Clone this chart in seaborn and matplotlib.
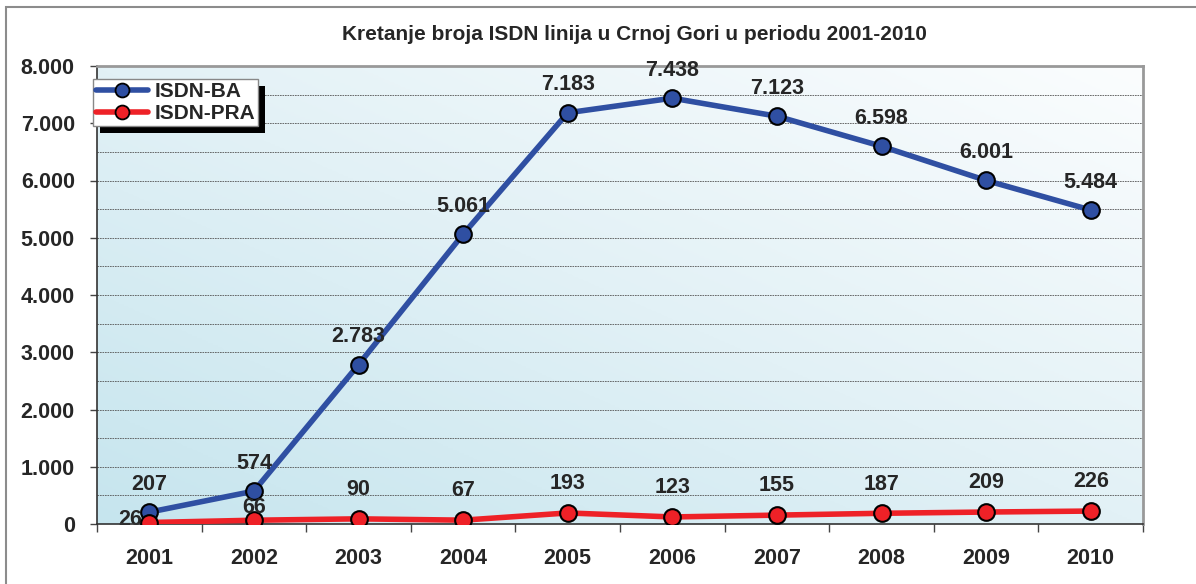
import numpy as np
import pandas as pd
import matplotlib
matplotlib.use("Agg")
import matplotlib.pyplot as plt
from matplotlib.patches import Rectangle
from matplotlib.colors import LinearSegmentedColormap
from matplotlib.ticker import MultipleLocator, FuncFormatter
from matplotlib.lines import Line2D
import seaborn as sns

# podaci
godine = ["2001", "2002", "2003", "2004", "2005", "2006", "2007", "2008", "2009", "2010"]
isdn_ba = [207, 574, 2783, 5061, 7183, 7438, 7123, 6598, 6001, 5484]
isdn_pra = [26, 66, 90, 67, 193, 123, 155, 187, 209, 226]
serije = ["ISDN-BA", "ISDN-PRA"]
boje = ["#2f4fa2", "#ee2127"]

df = pd.DataFrame({
    "godina": godine * 2,
    "vrijednost": isdn_ba + isdn_pra,
    "serija": [serije[0]] * len(godine) + [serije[1]] * len(godine),
})
df["x"] = list(range(len(godine))) * 2

sns.set_theme(style="white")
plt.rcParams["font.family"] = ["Liberation Sans", "DejaVu Sans"]
plt.rcParams["font.weight"] = "bold"

fig = plt.figure(figsize=(11.96, 5.84), dpi=100)
ax = fig.add_axes([97 / 1196, 1 - 524 / 584, 1046 / 1196, 458 / 584])

# spoljni okvir
fig.patches.append(Rectangle((6 / 1196, -0.01), 1.2, 1 - 7 / 584 + 0.01,
                             transform=fig.transFigure, fill=False,
                             edgecolor="#8c8c8c", linewidth=1.5, zorder=-5))

# gradijent pozadine
cmap = LinearSegmentedColormap.from_list("bg", ["#c6e5ee", "#e2f1f6", "#fbfdfe"])
xx, yy = np.meshgrid(np.linspace(0, 1, 200), np.linspace(0, 1, 200))
grad = (xx + (1 - yy)) / 2
ax.imshow(grad, cmap=cmap, extent=[-0.5, 9.5, 0, 8000], aspect="auto",
          origin="upper", zorder=0)

sns.lineplot(data=df, x="x", y="vrijednost", hue="serija", palette=boje,
             marker="o", markersize=12, markeredgecolor="black",
             markeredgewidth=1.5, linewidth=4, ax=ax, zorder=3, legend=False)

ax.set_xlim(-0.5, 9.5)
ax.set_ylim(0, 8000)
ax.yaxis.set_major_locator(MultipleLocator(1000))
ax.yaxis.set_minor_locator(MultipleLocator(500))
ax.yaxis.set_major_formatter(FuncFormatter(lambda v, p: f"{int(v):,}".replace(",", ".")))
ax.grid(axis="y", which="both", linestyle=(0, (2, 1)), color="#555555", linewidth=0.6, zorder=1)
ax.set_axisbelow(True)

ax.set_xticks(np.arange(-0.5, 10, 1))
ax.set_xticklabels([])
ax.set_xticks(range(len(godine)), minor=True)
ax.set_xticklabels(godine, minor=True)
ax.tick_params(axis="x", which="major", direction="out", length=6, width=1, color="#444444", bottom=True)
ax.tick_params(axis="x", which="minor", length=0, pad=17, labelsize=15.5)
ax.tick_params(axis="y", which="major", direction="out", length=5, width=1, color="#444444", left=True, labelsize=15.5, pad=11)
ax.tick_params(axis="y", which="minor", length=0)
for lab in ax.get_xticklabels(minor=True) + ax.get_yticklabels():
    lab.set_fontweight("bold")
ax.set_xlabel("")
ax.set_ylabel("")

for s in ["top", "right"]:
    ax.spines[s].set_color("#999999")
    ax.spines[s].set_linewidth(2)
for s in ["left", "bottom"]:
    ax.spines[s].set_color("#333333")
    ax.spines[s].set_linewidth(1.2)

def fmt(v):
    return f"{v:,}".replace(",", ".")

# oznake vrijednosti
for i, v in enumerate(isdn_ba):
    ax.annotate(fmt(v), (i, v), xytext=(0, 20), textcoords="offset points",
                ha="center", va="center", fontsize=15.5, fontweight="bold", zorder=5)
for i, v in enumerate(isdn_pra):
    if i == 0:
        off, z = (-14, 2), 2
    elif i == 1:
        off, z = (0, 9), 5
    else:
        off, z = (0, 21), 5
    ax.annotate(fmt(v), (i, v), xytext=off, textcoords="offset points",
                ha="center", va="center", fontsize=15.5, fontweight="bold", zorder=z)

fig.text((337 + 932) / 2 / 1196, 1 - 35 / 584,
         "Kretanje broja ISDN linija u Crnoj Gori u periodu 2001-2010",
         ha="center", va="center", fontsize=15, fontweight="bold")

# legenda
handles = [Line2D([], [], color=c, linewidth=4, marker="o", markersize=10,
                  markeredgecolor="black", markeredgewidth=1.3) for c in boje]
leg = ax.legend(handles, serije, loc="upper left", bbox_to_anchor=(-0.004, 0.972),
                frameon=True, fancybox=False, framealpha=1,
                prop={"size": 15, "weight": "bold"}, handlelength=2.5,
                borderpad=0.15, labelspacing=0.15, handletextpad=0.3, borderaxespad=0)
leg.get_frame().set_edgecolor("#888888")
leg.get_frame().set_linewidth(1)
leg.get_frame().set_facecolor("white")

# sjenka legende
fig.canvas.draw()
bb = leg.get_window_extent().transformed(fig.transFigure.inverted())
dx, dy = 7 / 1196, 7 / 584
ax.set_zorder(1)
fig.patches.append(Rectangle((bb.x0 + dx, bb.y0 - dy), bb.width, bb.height,
                             transform=fig.transFigure, facecolor="black",
                             edgecolor="none", zorder=9))
leg.remove()
fig.legends.append(leg)
leg.set_figure(fig)
leg.set_zorder(20)

fig.savefig("out.png", dpi=100)
